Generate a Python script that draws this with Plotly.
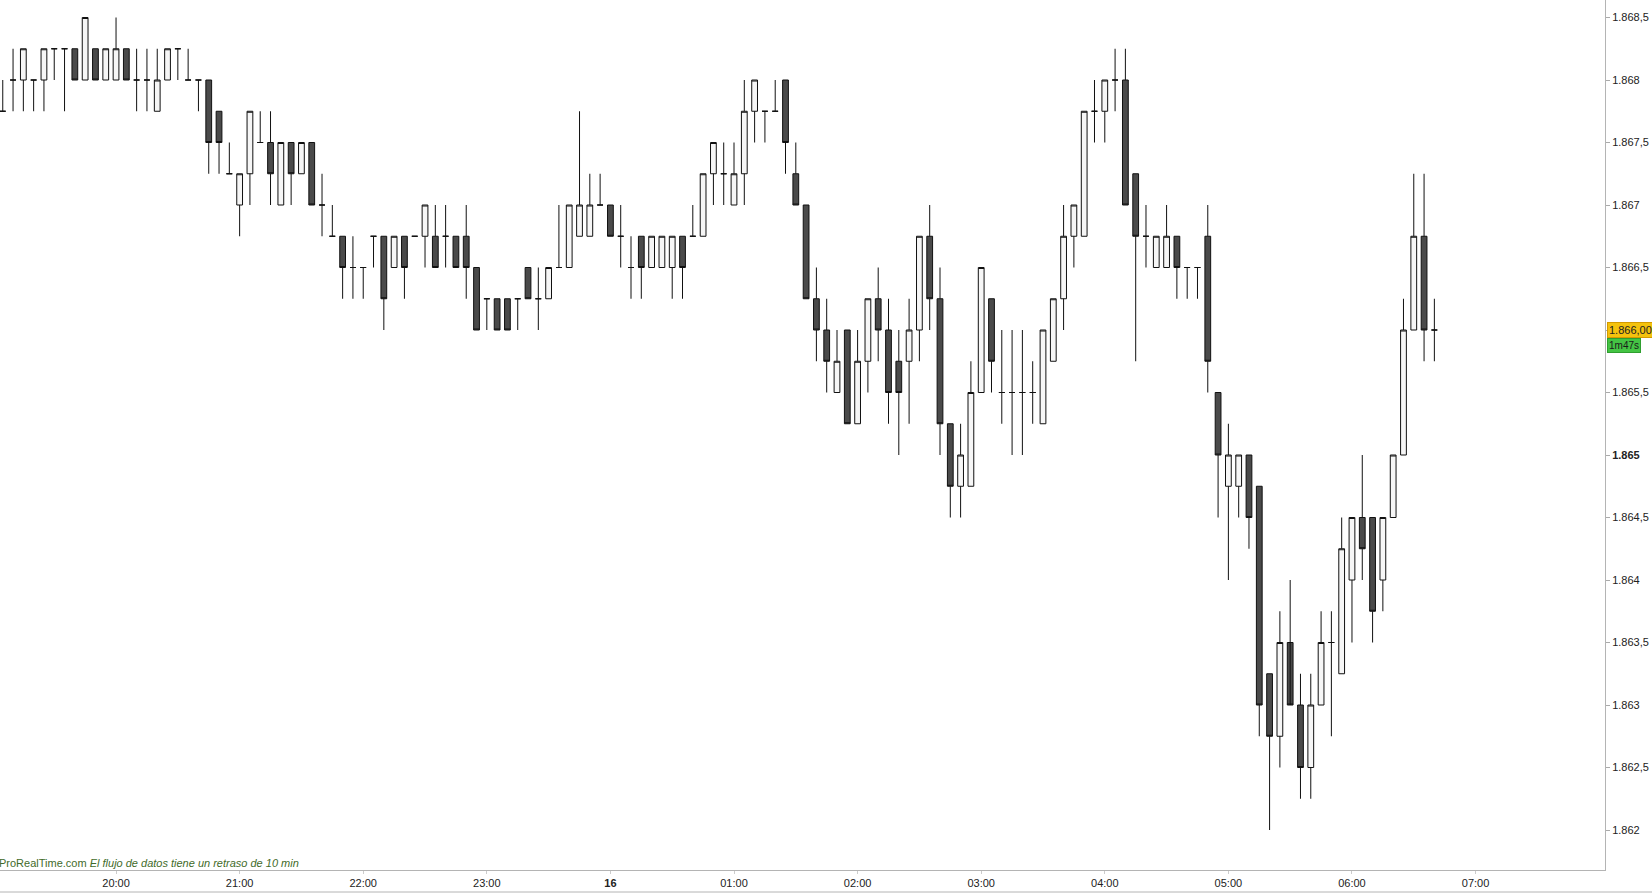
import pandas as pd
import plotly.graph_objects as go

# ---- data: 5-minute candles, 15 19:05 -> 16 06:40 ----
start_time = "2015-01-15 19:05"
n_candles = 140

opens = [
    1.86775, 1.868, 1.868, 1.868, 1.868, 1.86825, 1.86825, 1.86825, 1.868, 1.86825,
    1.868, 1.868, 1.86825, 1.868, 1.868, 1.86775, 1.868, 1.86825, 1.868, 1.868,
    1.868, 1.86775, 1.86725, 1.867, 1.86725, 1.8675, 1.8675, 1.867, 1.8675, 1.86725,
    1.8675, 1.867, 1.86675, 1.86675, 1.8665, 1.8665, 1.86675, 1.86675, 1.8665, 1.86675,
    1.86675, 1.86675, 1.86675, 1.86675, 1.86675, 1.86675, 1.8665, 1.86625, 1.86625, 1.86625,
    1.86625, 1.8665, 1.86625, 1.86625, 1.8665, 1.8665, 1.86675, 1.86675, 1.867, 1.867,
    1.86675, 1.8665, 1.86675, 1.8665, 1.8665, 1.8665, 1.86675, 1.86675, 1.86675, 1.86725,
    1.86725, 1.867, 1.86725, 1.86775, 1.86775, 1.86775, 1.868, 1.86725, 1.867, 1.86625,
    1.866, 1.8655, 1.866, 1.86525, 1.86575, 1.86625, 1.866, 1.86575, 1.86575, 1.866,
    1.86675, 1.86625, 1.86525, 1.86475, 1.86475, 1.8655, 1.86625, 1.8655, 1.8655, 1.8655,
    1.8655, 1.86525, 1.86575, 1.86625, 1.86675, 1.86675, 1.86775, 1.86775, 1.868, 1.868,
    1.86725, 1.86675, 1.8665, 1.8665, 1.86675, 1.8665, 1.8665, 1.86675, 1.8655, 1.86475,
    1.86475, 1.865, 1.86475, 1.86325, 1.86275, 1.8635, 1.863, 1.8625, 1.863, 1.8635,
    1.86325, 1.864, 1.8645, 1.8645, 1.864, 1.8645, 1.865, 1.866, 1.86675, 1.866,
]
highs = [
    1.868, 1.86825, 1.86825, 1.868, 1.86825, 1.86825, 1.86825, 1.86825, 1.8685, 1.86825,
    1.86825, 1.8685, 1.86825, 1.86825, 1.86825, 1.86825, 1.86825, 1.86825, 1.86825, 1.868,
    1.868, 1.86775, 1.8675, 1.86725, 1.86775, 1.86775, 1.86775, 1.8675, 1.8675, 1.8675,
    1.8675, 1.86725, 1.867, 1.86675, 1.86675, 1.8665, 1.86675, 1.86675, 1.86675, 1.86675,
    1.86675, 1.867, 1.867, 1.867, 1.86675, 1.867, 1.8665, 1.86625, 1.86625, 1.86625,
    1.86625, 1.8665, 1.8665, 1.8665, 1.867, 1.867, 1.86775, 1.86725, 1.86725, 1.867,
    1.867, 1.86675, 1.86675, 1.86675, 1.86675, 1.86675, 1.86675, 1.867, 1.86725, 1.8675,
    1.8675, 1.8675, 1.868, 1.868, 1.86775, 1.868, 1.868, 1.8675, 1.867, 1.8665,
    1.86625, 1.866, 1.866, 1.866, 1.86625, 1.8665, 1.86625, 1.866, 1.86625, 1.86675,
    1.867, 1.8665, 1.86525, 1.86525, 1.86575, 1.8665, 1.86625, 1.866, 1.866, 1.866,
    1.86575, 1.866, 1.86625, 1.867, 1.867, 1.86775, 1.868, 1.868, 1.86825, 1.86825,
    1.86725, 1.867, 1.86675, 1.867, 1.86675, 1.8665, 1.8665, 1.867, 1.8655, 1.86525,
    1.865, 1.865, 1.86475, 1.86325, 1.86375, 1.864, 1.86325, 1.86325, 1.86375, 1.86375,
    1.8645, 1.8645, 1.865, 1.8645, 1.8645, 1.865, 1.86625, 1.86725, 1.86725, 1.86625,
]
lows = [
    1.86775, 1.86775, 1.86775, 1.86775, 1.86775, 1.868, 1.86775, 1.868, 1.868, 1.868,
    1.868, 1.868, 1.868, 1.86775, 1.86775, 1.86775, 1.868, 1.868, 1.868, 1.86775,
    1.86725, 1.86725, 1.86725, 1.86675, 1.867, 1.8675, 1.867, 1.867, 1.867, 1.86725,
    1.867, 1.86675, 1.86675, 1.86625, 1.86625, 1.86625, 1.8665, 1.866, 1.8665, 1.86625,
    1.86675, 1.8665, 1.8665, 1.8665, 1.8665, 1.86625, 1.866, 1.866, 1.866, 1.866,
    1.866, 1.86625, 1.866, 1.86625, 1.8665, 1.8665, 1.86675, 1.86675, 1.867, 1.86675,
    1.8665, 1.86625, 1.86625, 1.8665, 1.8665, 1.86625, 1.86625, 1.86675, 1.86675, 1.867,
    1.867, 1.867, 1.867, 1.8675, 1.8675, 1.86775, 1.86725, 1.867, 1.86625, 1.86575,
    1.8655, 1.8655, 1.86525, 1.86525, 1.8655, 1.86575, 1.86525, 1.865, 1.86525, 1.86575,
    1.866, 1.865, 1.8645, 1.8645, 1.86475, 1.8655, 1.8655, 1.86525, 1.865, 1.865,
    1.86525, 1.86525, 1.86575, 1.866, 1.8665, 1.86675, 1.8675, 1.8675, 1.86775, 1.867,
    1.86575, 1.8665, 1.8665, 1.8665, 1.86625, 1.86625, 1.86625, 1.8655, 1.8645, 1.864,
    1.8645, 1.86425, 1.86275, 1.862, 1.8625, 1.8635, 1.86225, 1.86225, 1.863, 1.86275,
    1.86325, 1.8635, 1.864, 1.8635, 1.86375, 1.8645, 1.865, 1.866, 1.86575, 1.86575,
]
closes = [
    1.86775, 1.868, 1.86825, 1.868, 1.86825, 1.86825, 1.86825, 1.868, 1.8685, 1.868,
    1.86825, 1.86825, 1.868, 1.868, 1.868, 1.868, 1.86825, 1.86825, 1.868, 1.868,
    1.8675, 1.8675, 1.86725, 1.86725, 1.86775, 1.8675, 1.86725, 1.8675, 1.86725, 1.8675,
    1.867, 1.867, 1.86675, 1.8665, 1.8665, 1.8665, 1.86675, 1.86625, 1.86675, 1.8665,
    1.86675, 1.867, 1.8665, 1.86675, 1.8665, 1.8665, 1.866, 1.86625, 1.866, 1.866,
    1.86625, 1.86625, 1.86625, 1.8665, 1.8665, 1.867, 1.867, 1.867, 1.867, 1.86675,
    1.86675, 1.8665, 1.8665, 1.86675, 1.86675, 1.86675, 1.8665, 1.86675, 1.86725, 1.8675,
    1.86725, 1.86725, 1.86775, 1.868, 1.86775, 1.86775, 1.8675, 1.867, 1.86625, 1.866,
    1.86575, 1.86575, 1.86525, 1.86575, 1.86625, 1.866, 1.8655, 1.8655, 1.866, 1.86675,
    1.86625, 1.86525, 1.86475, 1.865, 1.8655, 1.8665, 1.86575, 1.8655, 1.8655, 1.8655,
    1.8655, 1.866, 1.86625, 1.86675, 1.867, 1.86775, 1.86775, 1.868, 1.868, 1.867,
    1.86675, 1.86675, 1.86675, 1.86675, 1.8665, 1.8665, 1.8665, 1.86575, 1.865, 1.865,
    1.865, 1.8645, 1.863, 1.86275, 1.8635, 1.863, 1.8625, 1.863, 1.8635, 1.8635,
    1.86425, 1.8645, 1.86425, 1.86375, 1.8645, 1.865, 1.866, 1.86675, 1.866, 1.866,
]

# the 1.866 label is covered by the last-price box in the original
price_ticks = [1.862, 1.8625, 1.863, 1.8635, 1.864, 1.8645, 1.865, 1.8655,
               1.866, 1.8665, 1.867, 1.8675, 1.868, 1.8685]
price_labels = ["1.862", "1.862,5", "1.863", "1.863,5", "1.864", "1.864,5", "<b>1.865</b>",
                "1.865,5", "", "1.866,5", "1.867", "1.867,5", "1.868", "1.868,5"]

time_ticks = ["2015-01-15 20:00", "2015-01-15 21:00", "2015-01-15 22:00", "2015-01-15 23:00",
              "2015-01-16 00:00", "2015-01-16 01:00", "2015-01-16 02:00", "2015-01-16 03:00",
              "2015-01-16 04:00", "2015-01-16 05:00", "2015-01-16 06:00", "2015-01-16 07:00"]
time_labels = ["20:00", "21:00", "22:00", "23:00", "<b>16</b>", "01:00", "02:00",
               "03:00", "04:00", "05:00", "06:00", "07:00"]

last_price = 1.866
last_price_label = "1.866,00"
countdown_label = "1m47s"

times = pd.date_range(start_time, periods=n_candles, freq="5min")

fig = go.Figure()
fig.add_trace(go.Candlestick(
    x=times, open=opens, high=highs, low=lows, close=closes,
    increasing=dict(fillcolor="#f6f6f6", line=dict(color="#111111", width=1)),
    decreasing=dict(fillcolor="#4a4a4a", line=dict(color="#111111", width=1)),
    whiskerwidth=0, showlegend=False, hoverinfo="skip",
))

fig.update_layout(
    width=1652, height=893,
    margin=dict(l=0, r=47, t=0, b=23),
    paper_bgcolor="white", plot_bgcolor="white",
    font=dict(family="Liberation Sans, Arial, sans-serif", size=11, color="#222222"),
    boxgap=0.2,
    showlegend=False,
    xaxis=dict(
        type="date",
        range=["2015-01-15 19:03:40", "2015-01-16 08:02:50"],
        rangeslider=dict(visible=False),
        tickvals=time_ticks, ticktext=time_labels,
        ticks="outside", ticklen=3, tickcolor="#cccccc",
        showline=True, linecolor="#b4b4b4", linewidth=1,
        showgrid=False, zeroline=False,
        tickfont=dict(size=11, color="#222222"),
    ),
    yaxis=dict(
        side="right",
        range=[1.86168, 1.86864],
        tickvals=price_ticks, ticktext=price_labels,
        ticks="outside", ticklen=4, tickcolor="#aaaaaa",
        showline=True, linecolor="#b4b4b4", linewidth=1,
        showgrid=False, zeroline=False,
        tickfont=dict(size=11, color="#222222"),
    ),
)

fig.add_annotation(
    xref="paper", x=1, xanchor="left", xshift=2,
    yref="y", y=last_price, yanchor="middle",
    text=last_price_label, showarrow=False,
    bgcolor="#f4c20d", bordercolor="#d49a00", borderwidth=1, borderpad=1,
    font=dict(size=11, color="#222222"),
)
fig.add_annotation(
    xref="paper", x=1, xanchor="left", xshift=2,
    yref="y", y=last_price, yanchor="middle", yshift=-15,
    text=countdown_label, showarrow=False,
    bgcolor="#44c444", bordercolor="#2f9f2f", borderwidth=1, borderpad=1,
    font=dict(size=10, color="#1a1a1a"),
)
fig.add_annotation(
    xref="paper", x=0, xanchor="left", xshift=-3,
    yref="paper", y=0, yanchor="bottom", yshift=-1,
    text="ProRealTime.com <i>El flujo de datos tiene un retraso de 10 min</i>",
    showarrow=False,
    font=dict(size=11, color="#3f6b2a"),
)
fig.add_shape(type="line", xref="paper", yref="paper",
              x0=0, x1=1652 / 1605, y0=-22 / 870, y1=-22 / 870,
              line=dict(color="#b4b4b4", width=1))

fig.write_html("out.html", config={"displayModeBar": False},
               post_script="document.body.style.margin='0';")
